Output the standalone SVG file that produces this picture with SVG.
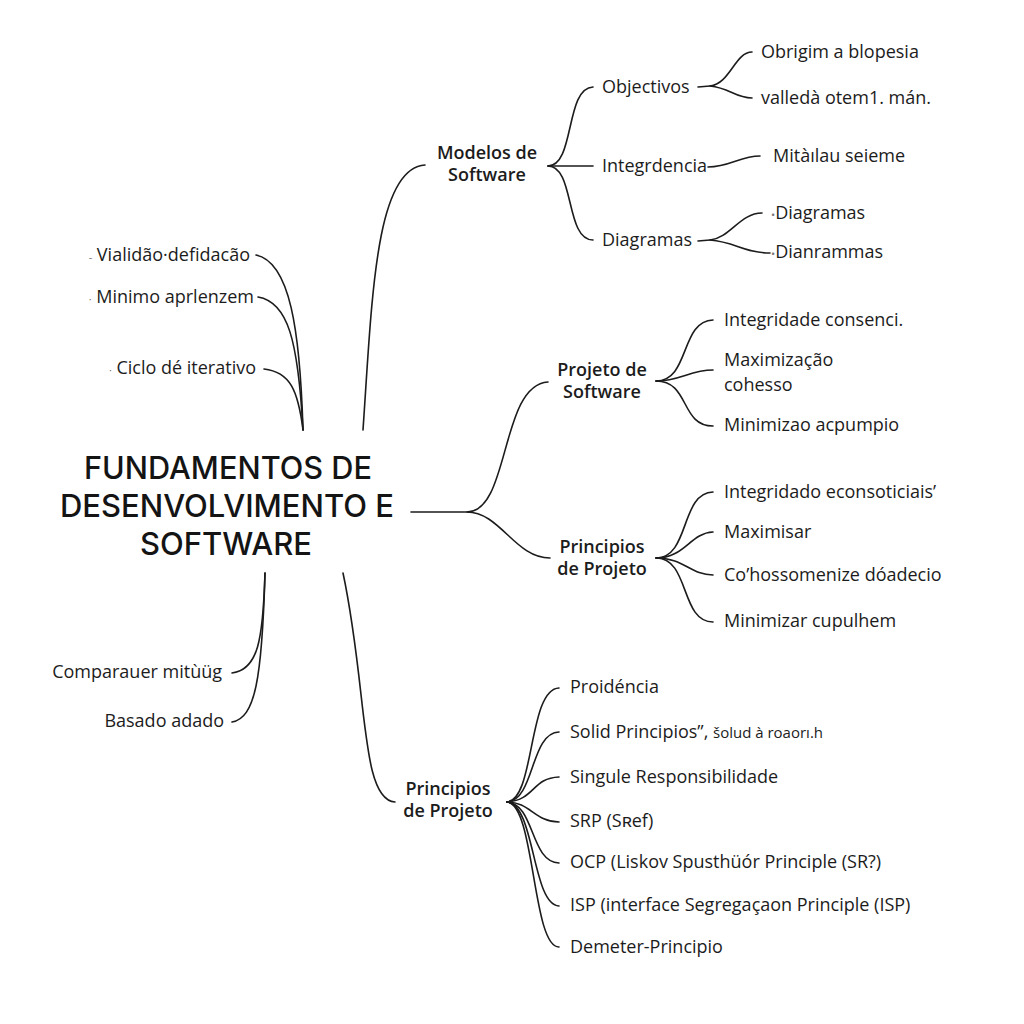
<svg xmlns="http://www.w3.org/2000/svg" width="1024" height="1024" viewBox="0 0 1024 1024">
<style>
text{font-family:"Open Sans","Noto Sans","Liberation Sans",sans-serif;fill:#1c1c1c;font-size:18px}
.b{font-weight:600;text-anchor:middle}
.t{font-family:Inter,"Open Sans",sans-serif;font-size:31px;font-weight:500;text-anchor:middle;fill:#141414}
.e{text-anchor:end}
.d{font-size:11px;fill:#777}
#connectors path{fill:none;stroke:#1c1c1c;stroke-width:1.6;stroke-linecap:round}
</style>
<rect width="1024" height="1024" fill="#ffffff"/>
<g id="connectors">
<path d="M303,430 C300,330 290,262 256,255"/>
<path d="M303,430 C298,340 288,302 258,297"/>
<path d="M303,430 C298,390 290,372 264,369"/>
<path d="M363,430 C372,300 375,168 425,165"/>
<path d="M411,512 L467,512 C510,512 500,385 548,382"/>
<path d="M467,512 C500,512 515,558 550,558"/>
<path d="M265,573 C263,640 258,670 232,673"/>
<path d="M265,573 C262,680 255,718 232,722"/>
<path d="M343,573 C368,690 360,800 395,802"/>
<path d="M548,166 C575,166 565,88 593,87"/>
<path d="M548,166 L593,166"/>
<path d="M548,166 C575,166 565,240 593,240"/>
<path d="M698,87 L710,86 C730,84 735,52 752,52"/>
<path d="M710,86 C730,88 735,98 752,98"/>
<path d="M708,167 C730,167 740,156 760,156"/>
<path d="M698,241 L710,240 C730,238 740,213 762,213"/>
<path d="M710,240 C735,242 745,253 770,253"/>
<path d="M656,381 C690,381 680,321 713,320"/>
<path d="M656,381 C680,381 690,370 713,370"/>
<path d="M656,381 C690,381 680,426 713,426"/>
<path d="M656,558 C690,558 680,493 713,492"/>
<path d="M656,558 C685,558 690,533 713,532"/>
<path d="M656,558 C685,558 690,575 713,575"/>
<path d="M656,558 C690,558 680,622 713,622"/>
<path d="M507,802 C535,800 528,689 559,688"/>
<path d="M507,802 C535,800 530,733 559,732"/>
<path d="M507,802 C535,800 532,778 559,777"/>
<path d="M507,802 C530,802 535,822 559,822"/>
<path d="M507,802 C535,804 530,862 559,863"/>
<path d="M507,802 C535,804 532,905 559,906"/>
<path d="M507,802 C535,804 532,947 559,947"/>
</g>
<g id="root">
<text class="t" x="228" y="479" textLength="288" lengthAdjust="spacingAndGlyphs">FUNDAMENTOS DE</text>
<text class="t" x="227" y="517" textLength="334" lengthAdjust="spacingAndGlyphs">DESENVOLVIMENTO E</text>
<text class="t" x="226" y="555" textLength="172" lengthAdjust="spacingAndGlyphs">SOFTWARE</text>
</g>
<g id="modelos"><text class="b" x="487" y="159">Modelos de</text><text class="b" x="487" y="181">Software</text></g>
<g id="objectivos"><text x="602" y="93">Objectivos</text></g>
<g id="integrdencia"><text x="602" y="172">Integrdencia</text></g>
<g id="diagramas"><text x="602" y="246">Diagramas</text></g>
<g id="obrigim"><text x="761" y="58">Obrigim a blopesia</text></g>
<g id="valleda"><text x="761" y="104">valledà otem1. mán.</text></g>
<g id="mitailau"><text x="773" y="162">Mitàılau seieme</text></g>
<g id="diag2"><text x="771" y="219"><tspan class="d">•</tspan>Diagramas</text></g>
<g id="dianrammas"><text x="771" y="258"><tspan class="d">•</tspan>Dianrammas</text></g>
<g id="vialidao"><text class="e" x="250" y="261"><tspan class="d">-</tspan>  Vialidão·defidacão</text></g>
<g id="minimo"><text class="e" x="254" y="303"><tspan class="d">·</tspan> Minimo aprlenzem</text></g>
<g id="ciclo"><text class="e" x="256" y="374"><tspan class="d">·</tspan> Ciclo dé iterativo</text></g>
<g id="projeto"><text class="b" x="602" y="376">Projeto de</text><text class="b" x="602" y="398">Software</text></g>
<g id="integ1"><text x="724" y="326">Integridade consenci.</text></g>
<g id="maxim1"><text x="724" y="366">Maximização</text><text x="724" y="391">cohesso</text></g>
<g id="minim1"><text x="724" y="431">Minimizao acpumpio</text></g>
<g id="principios1"><text class="b" x="602" y="553">Principios</text><text class="b" x="602" y="575">de Projeto</text></g>
<g id="integ2"><text x="724" y="498">Integridado econsoticiais’</text></g>
<g id="maxim2"><text x="724" y="538">Maximisar</text></g>
<g id="cohoss"><text x="724" y="581">Co’hossomenize dóadecio</text></g>
<g id="minim2"><text x="724" y="627">Minimizar cupulhem</text></g>
<g id="comparauer"><text class="e" x="222" y="678">Comparauer mitùüg</text></g>
<g id="basado"><text class="e" x="224" y="727">Basado adado</text></g>
<g id="principios2"><text class="b" x="448" y="795">Principios</text><text class="b" x="448" y="817">de Projeto</text></g>
<g id="proidencia"><text x="570" y="693">Proidéncia</text></g>
<g id="solid"><text x="570" y="738">Solid Principios”, <tspan font-size="15">šolud à roaorı.h</tspan></text></g>
<g id="singule"><text x="570" y="783">Singule Responsibilidade</text></g>
<g id="srp"><text x="570" y="827">SRP  (Sʀef)</text></g>
<g id="ocp"><text x="570" y="868">OCP  (Liskov Spusthüór Principle (SR?)</text></g>
<g id="isp"><text x="570" y="911">ISP (interface Segregaçaon Principle (ISP)</text></g>
<g id="demeter"><text x="570" y="953">Demeter-Principio</text></g>
</svg>
